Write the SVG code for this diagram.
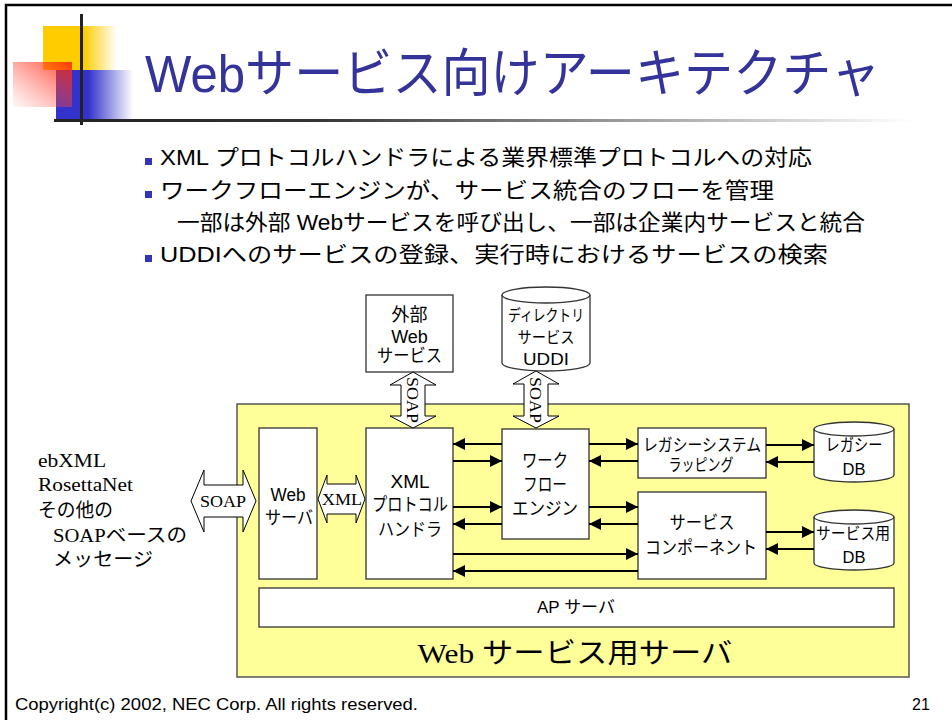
<svg xmlns="http://www.w3.org/2000/svg" width="952" height="720" viewBox="0 0 952 720">
<style>
.g{font-family:"Liberation Sans","Noto Sans CJK JP",sans-serif;fill:#000}
.s{font-family:"Liberation Serif","Noto Sans CJK JP",serif;fill:#000}
.box{fill:#fff;stroke:#333;stroke-width:1.3}
.fat{fill:#fff;stroke:#000;stroke-width:1}
.c{stroke:#000;stroke-width:2;fill:none}
.bul{fill:#3333BB}
</style>
<defs>
<marker id="ah" viewBox="0 0 12 12" refX="12" refY="6" markerWidth="12" markerHeight="12" markerUnits="userSpaceOnUse" orient="auto">
<path d="M0,0 L12,6 L0,12 z" fill="#000"/>
</marker>
<linearGradient id="gy" x1="0" y1="0" x2="1" y2="0">
<stop offset="0" stop-color="#FFCC00"/><stop offset="0.55" stop-color="#FFCC00"/><stop offset="1" stop-color="#FFCC00" stop-opacity="0"/>
</linearGradient>
<linearGradient id="gb" x1="0" y1="0" x2="1" y2="0">
<stop offset="0" stop-color="#3333CC"/><stop offset="0.42" stop-color="#3333CC"/><stop offset="1" stop-color="#3333CC" stop-opacity="0"/>
</linearGradient>
<linearGradient id="gr" x1="1" y1="0" x2="0" y2="1">
<stop offset="0" stop-color="#FF2200" stop-opacity="0.85"/><stop offset="1" stop-color="#FF6666" stop-opacity="0.05"/>
</linearGradient>
<linearGradient id="gl" x1="0" y1="0" x2="1" y2="0">
<stop offset="0" stop-color="#222"/><stop offset="0.3" stop-color="#333"/><stop offset="1" stop-color="#fff"/>
</linearGradient>
</defs>
<rect x="0" y="0" width="952" height="720" fill="#fff"/>
<rect x="6" y="5" width="980" height="760" fill="none" stroke="#000" stroke-width="2.5"/>

<g id="decoration">
<rect x="43" y="26" width="74" height="44" fill="url(#gy)"/>
<rect x="56" y="70" width="77" height="50" fill="url(#gb)"/>
<rect x="13" y="62" width="59" height="45" fill="url(#gr)"/>
<rect x="80" y="14" width="3" height="111" fill="#222"/>
<rect x="54" y="119" width="860" height="3" fill="url(#gl)"/>
</g>

<text x="145" y="92" font-family="Liberation Sans,Noto Sans CJK JP,sans-serif" font-size="52" fill="#333399" textLength="735" lengthAdjust="spacingAndGlyphs">Webサービス向けアーキテクチャ</text>

<g id="bullets">
<rect class="bul" x="145" y="158" width="7" height="7"/>
<text class="g" x="160" y="165" font-size="22" textLength="652" lengthAdjust="spacingAndGlyphs">XML プロトコルハンドラによる業界標準プロトコルへの対応</text>
<rect class="bul" x="145" y="191" width="7" height="7"/>
<text class="g" x="160" y="198" font-size="22" textLength="614" lengthAdjust="spacingAndGlyphs">ワークフローエンジンが、サービス統合のフローを管理</text>
<text class="g" x="177" y="230" font-size="22" textLength="688" lengthAdjust="spacingAndGlyphs">一部は外部 Webサービスを呼び出し、一部は企業内サービスと統合</text>
<rect class="bul" x="145" y="255" width="7" height="7"/>
<text class="g" x="160" y="262" font-size="22" textLength="668" lengthAdjust="spacingAndGlyphs">UDDIへのサービスの登録、実行時におけるサービスの検索</text>
</g>

<g id="web-service-server">
<rect x="237" y="404" width="672" height="273" fill="#FFFF99" stroke="#555" stroke-width="1.5"/>
<text x="575" y="663" font-size="28" text-anchor="middle" textLength="315" lengthAdjust="spacingAndGlyphs"><tspan class="s">Web </tspan><tspan class="g">サービス用サーバ</tspan></text>
</g>

<g id="left-messages">
<text class="s" x="38" y="467" font-size="19" textLength="68" lengthAdjust="spacingAndGlyphs">ebXML</text>
<text class="s" x="38" y="491" font-size="19" textLength="95" lengthAdjust="spacingAndGlyphs">RosettaNet</text>
<text class="g" x="38" y="517" font-size="19" textLength="75" lengthAdjust="spacingAndGlyphs">その他の</text>
<text x="53" y="542" font-size="19" textLength="134" lengthAdjust="spacingAndGlyphs"><tspan class="s">SOAP</tspan><tspan class="g">ベースの</tspan></text>
<text class="g" x="53" y="566" font-size="19" textLength="100" lengthAdjust="spacingAndGlyphs">メッセージ</text>
</g>

<g id="ext-web-service">
<rect class="box" x="366" y="295" width="87" height="77"/>
<text class="g" x="409.5" y="321" font-size="18" text-anchor="middle">外部</text>
<text class="g" x="409.5" y="343" font-size="18" text-anchor="middle">Web</text>
<text class="g" x="409.5" y="362" font-size="18" text-anchor="middle" textLength="65" lengthAdjust="spacingAndGlyphs">サービス</text>
</g>

<g id="directory-uddi">
<path class="box" d="M502,295 A44,8 0 0 1 590,295 V363 A44,8 0 0 1 502,363 Z"/>
<path d="M502,295 A44,8 0 0 0 590,295" fill="none" stroke="#333" stroke-width="1.3"/>
<text class="g" x="546" y="321" font-size="16" text-anchor="middle" textLength="76" lengthAdjust="spacingAndGlyphs">ディレクトリ</text>
<text class="g" x="546" y="343" font-size="16" text-anchor="middle" textLength="57" lengthAdjust="spacingAndGlyphs">サービス</text>
<text class="g" x="546" y="365" font-size="17" text-anchor="middle" textLength="46" lengthAdjust="spacingAndGlyphs">UDDI</text>
</g>

<g id="web-server">
<rect class="box" x="259" y="428" width="58" height="151"/>
<text class="g" x="288" y="501" font-size="18" text-anchor="middle" textLength="35" lengthAdjust="spacingAndGlyphs">Web</text>
<text class="g" x="289" y="524" font-size="18" text-anchor="middle" textLength="48" lengthAdjust="spacingAndGlyphs">サーバ</text>
</g>

<g id="xml-protocol-handler">
<rect class="box" x="366" y="428" width="87" height="151"/>
<text class="g" x="410" y="488" font-size="18" text-anchor="middle" textLength="39" lengthAdjust="spacingAndGlyphs">XML</text>
<text class="g" x="410" y="511" font-size="18" text-anchor="middle" textLength="76" lengthAdjust="spacingAndGlyphs">プロトコル</text>
<text class="g" x="410" y="536" font-size="18" text-anchor="middle" textLength="64" lengthAdjust="spacingAndGlyphs">ハンドラ</text>
</g>

<g id="workflow-engine">
<rect class="box" x="502" y="429" width="87" height="110"/>
<text class="g" x="545" y="467" font-size="18" text-anchor="middle" textLength="46" lengthAdjust="spacingAndGlyphs">ワーク</text>
<text class="g" x="545" y="491" font-size="18" text-anchor="middle" textLength="44" lengthAdjust="spacingAndGlyphs">フロー</text>
<text class="g" x="545" y="515" font-size="18" text-anchor="middle" textLength="66" lengthAdjust="spacingAndGlyphs">エンジン</text>
</g>

<g id="legacy-wrapping">
<rect class="box" x="638" y="428" width="128" height="50"/>
<text class="g" x="702" y="451" font-size="17" text-anchor="middle" textLength="118" lengthAdjust="spacingAndGlyphs">レガシーシステム</text>
<text class="g" x="701" y="471" font-size="17" text-anchor="middle" textLength="65" lengthAdjust="spacingAndGlyphs">ラッピング</text>
</g>

<g id="service-component">
<rect class="box" x="638" y="492" width="128" height="87"/>
<text class="g" x="702" y="529" font-size="18" text-anchor="middle" textLength="65" lengthAdjust="spacingAndGlyphs">サービス</text>
<text class="g" x="701" y="554" font-size="18" text-anchor="middle" textLength="112" lengthAdjust="spacingAndGlyphs">コンポーネント</text>
</g>

<g id="legacy-db">
<path class="box" d="M814,429 A40,7 0 0 1 894,429 V475 A40,7 0 0 1 814,475 Z"/>
<path d="M814,429 A40,7 0 0 0 894,429" fill="none" stroke="#333" stroke-width="1.3"/>
<text class="g" x="854" y="451" font-size="17" text-anchor="middle" textLength="57" lengthAdjust="spacingAndGlyphs">レガシー</text>
<text class="g" x="854" y="475" font-size="17" text-anchor="middle" textLength="23" lengthAdjust="spacingAndGlyphs">DB</text>
</g>

<g id="service-db">
<path class="box" d="M814,517 A40,7 0 0 1 894,517 V563 A40,7 0 0 1 814,563 Z"/>
<path d="M814,517 A40,7 0 0 0 894,517" fill="none" stroke="#333" stroke-width="1.3"/>
<text class="g" x="853" y="539" font-size="16" text-anchor="middle" textLength="74" lengthAdjust="spacingAndGlyphs">サービス用</text>
<text class="g" x="854" y="563" font-size="17" text-anchor="middle" textLength="23" lengthAdjust="spacingAndGlyphs">DB</text>
</g>

<g id="ap-server">
<rect class="box" x="259" y="588" width="635" height="39"/>
<text class="g" x="576" y="613" font-size="17" text-anchor="middle">AP サーバ</text>
</g>

<g id="connectors">
<polygon class="fat" points="191,501 204,470 204,485 243,485 243,470 256,501 243,532 243,517 204,517 204,532"/>
<text class="s" x="223" y="507" font-size="17" text-anchor="middle" textLength="46" lengthAdjust="spacingAndGlyphs">SOAP</text>
<polygon class="fat" points="318,499 327,475 327,484 356,484 356,475 365,499 356,523 356,514 327,514 327,523"/>
<text class="s" x="342" y="505" font-size="17" text-anchor="middle" textLength="40" lengthAdjust="spacingAndGlyphs">XML</text>
<polygon class="fat" points="413,372 436,385 425,385 425,416 436,416 413,428 390,416 401,416 401,385 390,385"/>
<text class="s" x="0" y="0" font-size="17" text-anchor="middle" textLength="46" lengthAdjust="spacingAndGlyphs" transform="translate(407,400) rotate(90)">SOAP</text>
<polygon class="fat" points="536,371 559,384 548,384 548,416 559,416 536,428 513,416 524,416 524,384 513,384"/>
<text class="s" x="0" y="0" font-size="17" text-anchor="middle" textLength="46" lengthAdjust="spacingAndGlyphs" transform="translate(530,400) rotate(90)">SOAP</text>

<line class="c" x1="502" y1="444" x2="453" y2="444" marker-end="url(#ah)"/>
<line class="c" x1="453" y1="461" x2="502" y2="461" marker-end="url(#ah)"/>
<line class="c" x1="453" y1="507" x2="502" y2="507" marker-end="url(#ah)"/>
<line class="c" x1="502" y1="524" x2="453" y2="524" marker-end="url(#ah)"/>
<line class="c" x1="453" y1="554" x2="638" y2="554" marker-end="url(#ah)"/>
<line class="c" x1="638" y1="571" x2="453" y2="571" marker-end="url(#ah)"/>
<line class="c" x1="589" y1="444" x2="638" y2="444" marker-end="url(#ah)"/>
<line class="c" x1="638" y1="461" x2="589" y2="461" marker-end="url(#ah)"/>
<line class="c" x1="589" y1="507" x2="638" y2="507" marker-end="url(#ah)"/>
<line class="c" x1="638" y1="524" x2="589" y2="524" marker-end="url(#ah)"/>
<line class="c" x1="766" y1="445" x2="814" y2="445" marker-end="url(#ah)"/>
<line class="c" x1="814" y1="462" x2="766" y2="462" marker-end="url(#ah)"/>
<line class="c" x1="766" y1="532" x2="814" y2="532" marker-end="url(#ah)"/>
<line class="c" x1="814" y1="549" x2="766" y2="549" marker-end="url(#ah)"/>
</g>

<text class="g" x="15" y="710" font-size="16" fill="#222" textLength="403" lengthAdjust="spacingAndGlyphs">Copyright(c) 2002, NEC Corp. All rights reserved.</text>
<text class="g" x="912" y="710" font-size="16">21</text>
</svg>
